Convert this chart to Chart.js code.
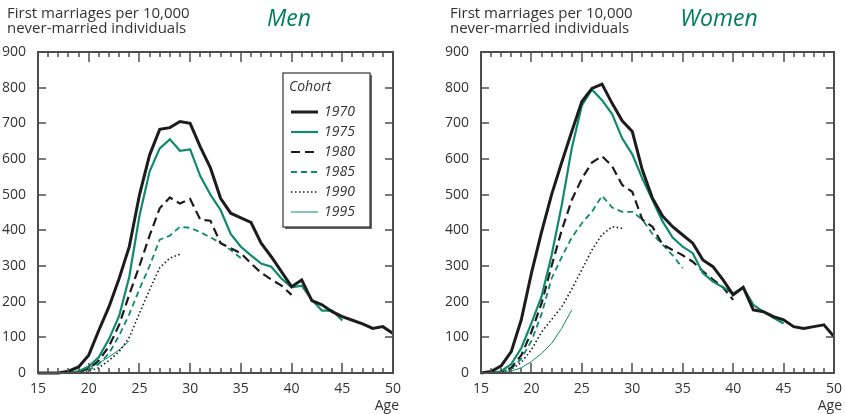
<!DOCTYPE html>
<html>
<head>
<meta charset="utf-8">
<title>First marriages by cohort</title>
<script src="https://cdn.jsdelivr.net/npm/chart.js@4.4.1/dist/chart.umd.min.js"></script>
<style>
  body { margin: 0; background: #fff; width: 846px; height: 414px; position: relative; overflow: hidden; font-family: "Open Sans", sans-serif; }
  canvas { position: absolute; top: 0; }
  .ytitle { position: absolute; top: 5px; font-size: 15px; line-height: 15px; color: #333; white-space: nowrap; }
  .panel-title { position: absolute; top: 1px; font-size: 23px; font-style: italic; color: #007f5f; transform: translateX(-50%); }
  .xtitle { position: absolute; top: 395px; font-size: 14px; color: #333; }
</style>
</head>
<body>
<canvas id="menChart" width="423" height="414" style="left:0"></canvas>
<canvas id="womenChart" width="405" height="414" style="left:441px"></canvas>
<div class="ytitle" style="left:7px">First marriages per 10,000<br>never-married individuals</div>
<div class="panel-title" style="left:289px">Men</div>
<div class="ytitle" style="left:450px">First marriages per 10,000<br>never-married individuals</div>
<div class="panel-title" style="left:719px">Women</div>
<div class="xtitle" style="right:447px">Age</div>
<div class="xtitle" style="right:4px">Age</div>

<script>
// === Data ===
const ages = [15,16,17,18,19,20,21,22,23,24,25,26,27,28,29,30,31,32,33,34,35,36,37,38,39,40,41,42,43,44,45,46,47,48,49,50];
const cohorts = ['1970', '1975', '1980', '1985', '1990', '1995'];
const xTickValues = [15, 20, 25, 30, 35, 40, 45, 50];
const yTickValues = [0, 100, 200, 300, 400, 500, 600, 700, 800, 900];

// men, by cohort (null = not observed yet)
const men1970 = [0,0,0,5,17,50,120,186,265,354,499,611,683,688,705,700,634,575,490,448,435,422,364,326,284,242,261,203,191,172,158,148,138,125,130,111];
const men1975 = [0,0,0,0,5,18,45,95,160,270,440,565,630,655,623,627,552,500,457,390,354,330,307,298,265,240,245,205,175,175,147,null,null,null,null,null];
const men1980 = [0,0,0,0,3,12,35,75,135,220,300,385,462,492,475,488,430,427,364,350,336,307,281,262,245,219,null,null,null,null,null,null,null,null,null,null];
const men1985 = [0,0,0,0,2,8,25,55,105,165,235,300,374,385,410,407,395,380,365,345,322,null,null,null,null,null,null,null,null,null,null,null,null,null,null,null];
const men1990 = [0,0,0,0,0,5,15,35,60,100,167,233,295,322,333,null,null,null,null,null,null,null,null,null,null,null,null,null,null,null,null,null,null,null,null,null];
const men1995 = [0,0,0,2,6,15,28,45,65,90,null,null,null,null,null,null,null,null,null,null,null,null,null,null,null,null,null,null,null,null,null,null,null,null,null,null];

// women, by cohort
const women1970 = [0,4,20,60,150,280,395,500,590,677,761,798,810,756,707,677,569,490,440,410,387,364,317,298,261,219,240,177,172,158,149,130,125,130,135,102];
const women1975 = [0,0,5,25,70,140,214,330,470,630,750,795,765,726,658,613,545,485,425,380,354,336,280,256,240,223,240,191,172,155,139,null,null,null,null,null];
const women1980 = [0,0,3,15,50,115,195,300,400,485,545,590,608,580,527,508,430,410,360,345,330,312,285,262,240,205,null,null,null,null,null,null,null,null,null,null];
const women1985 = [0,0,3,12,40,90,165,265,325,380,420,452,497,464,452,452,430,390,360,330,294,null,null,null,null,null,null,null,null,null,null,null,null,null,null,null];
const women1990 = [0,0,2,10,30,65,115,150,185,235,290,345,388,410,406,null,null,null,null,null,null,null,null,null,null,null,null,null,null,null,null,null,null,null,null,null];
const women1995 = [0,0,0,5,15,32,55,83,125,177,null,null,null,null,null,null,null,null,null,null,null,null,null,null,null,null,null,null,null,null,null,null,null,null,null,null];

// === Styles ===
const BLACK = '#1c1c1c';
const GREEN = '#0f8a6c';
const FRAME = '#4d4d4d';
const cohortStyles = [
  { color: BLACK, width: 3,   dash: [] },
  { color: GREEN, width: 2.2, dash: [] },
  { color: BLACK, width: 2.2, dash: [9, 5] },
  { color: GREEN, width: 1.8, dash: [6, 4] },
  { color: BLACK, width: 1.6, dash: [1.5, 2.5] },
  { color: GREEN, width: 1,   dash: [] }
];

function buildDatasets(seriesList) {
  return seriesList.map((values, i) => ({
    label: cohorts[i],
    data: ages.map((a, j) => ({ x: a, y: values[j] })),
    borderColor: cohortStyles[i].color,
    borderWidth: cohortStyles[i].width,
    borderDash: cohortStyles[i].dash,
    pointRadius: 0,
    tension: 0,
    spanGaps: false,
    clip: false
  }));
}

// frame with inward ticks on all four sides
const framePlugin = {
  id: 'plotFrame',
  afterDraw(chart, args, opts) {
    const ctx = chart.ctx;
    const a = chart.chartArea;
    const xs = chart.scales.x, ys = chart.scales.y;
    const L = Math.round(a.left), R = Math.round(a.right), T = Math.round(a.top), B = Math.round(a.bottom);
    ctx.save();
    ctx.setLineDash([]);
    ctx.strokeStyle = FRAME;
    ctx.lineWidth = 2;
    ctx.beginPath();
    ctx.moveTo(L, T); ctx.lineTo(R, T); ctx.lineTo(R, B); ctx.lineTo(L, B); ctx.closePath();
    ctx.stroke();
    ctx.lineWidth = 1.5;
    ctx.beginPath();
    for (let v = 15; v <= 50; v++) {
      const px = Math.round(xs.getPixelForValue(v));
      const len = v % 5 === 0 ? 10 : 5;
      ctx.moveTo(px, B); ctx.lineTo(px, B - len);
      ctx.moveTo(px, T); ctx.lineTo(px, T + len);
    }
    yTickValues.forEach(v => {
      const py = Math.round(ys.getPixelForValue(v));
      ctx.moveTo(L, py); ctx.lineTo(L + 8, py);
      ctx.moveTo(R, py); ctx.lineTo(R - 8, py);
    });
    ctx.stroke();
    ctx.restore();
    if (opts && opts.legend) drawLegend(chart);
  }
};

// boxed "Cohort" legend inside the men plot
function drawLegend(chart) {
  const { ctx, chartArea: a } = chart;
  const left = Math.round(a.right) - 110, top = Math.round(a.top) + 21, w = 87, h = 154;
  ctx.save();
  ctx.fillStyle = '#fff';
  ctx.fillRect(left, top, w, h);
  ctx.strokeStyle = '#333';
  ctx.lineWidth = 1.2;
  ctx.strokeRect(left, top, w, h);
  ctx.lineWidth = 1.5;
  ctx.beginPath();
  ctx.moveTo(left + w + 1, top + 2); ctx.lineTo(left + w + 1, top + h + 1); ctx.lineTo(left + 2, top + h + 1);
  ctx.stroke();

  ctx.fillStyle = '#333';
  ctx.font = 'italic 14px "Open Sans"';
  ctx.textBaseline = 'middle';
  ctx.fillText('Cohort', left + 6, top + 14);
  chart.data.datasets.forEach((ds, i) => {
    const yy = top + 39 + i * 20;
    ctx.strokeStyle = ds.borderColor;
    ctx.lineWidth = ds.borderWidth;
    ctx.setLineDash(ds.borderDash);
    ctx.beginPath();
    ctx.moveTo(left + 8, yy); ctx.lineTo(left + 35, yy);
    ctx.stroke();
    ctx.setLineDash([]);
    ctx.fillStyle = '#333';
    ctx.fillText(ds.label, left + 41, yy);
  });
  ctx.restore();
}

function makeChart(canvasId, seriesList, rightPad, yWidth, showLegend) {
  const ctx = document.getElementById(canvasId).getContext('2d');
  return new Chart(ctx, {
    type: 'line',
    data: { datasets: buildDatasets(seriesList) },
    options: {
      responsive: false,
      animation: false,
      layout: { padding: { top: 52, right: rightPad, bottom: 0, left: 0 } },
      scales: {
        x: {
          type: 'linear', min: 15, max: 50,
          grid: { display: false }, border: { display: false },
          afterBuildTicks: s => { s.ticks = xTickValues.map(v => ({ value: v })); },
          afterFit: s => { s.height = 41; },
          ticks: { color: '#333', font: { family: 'Open Sans', size: 14 }, padding: 0, maxRotation: 0, autoSkip: false }
        },
        y: {
          min: 0, max: 900,
          grid: { display: false }, border: { display: false },
          afterBuildTicks: s => { s.ticks = yTickValues.map(v => ({ value: v })); },
          afterFit: s => { s.width = yWidth; },
          ticks: { color: '#333', font: { family: 'Open Sans', size: 14 }, padding: 4 }
        }
      },
      plugins: {
        legend: { display: false },
        tooltip: { enabled: false },
        plotFrame: { legend: showLegend }
      }
    },
    plugins: [framePlugin]
  });
}

makeChart('menChart', [men1970, men1975, men1980, men1985, men1990, men1995], 30, 38, true);
makeChart('womenChart', [women1970, women1975, women1980, women1985, women1990, women1995], 12, 40, false);
</script>
</body>
</html>
